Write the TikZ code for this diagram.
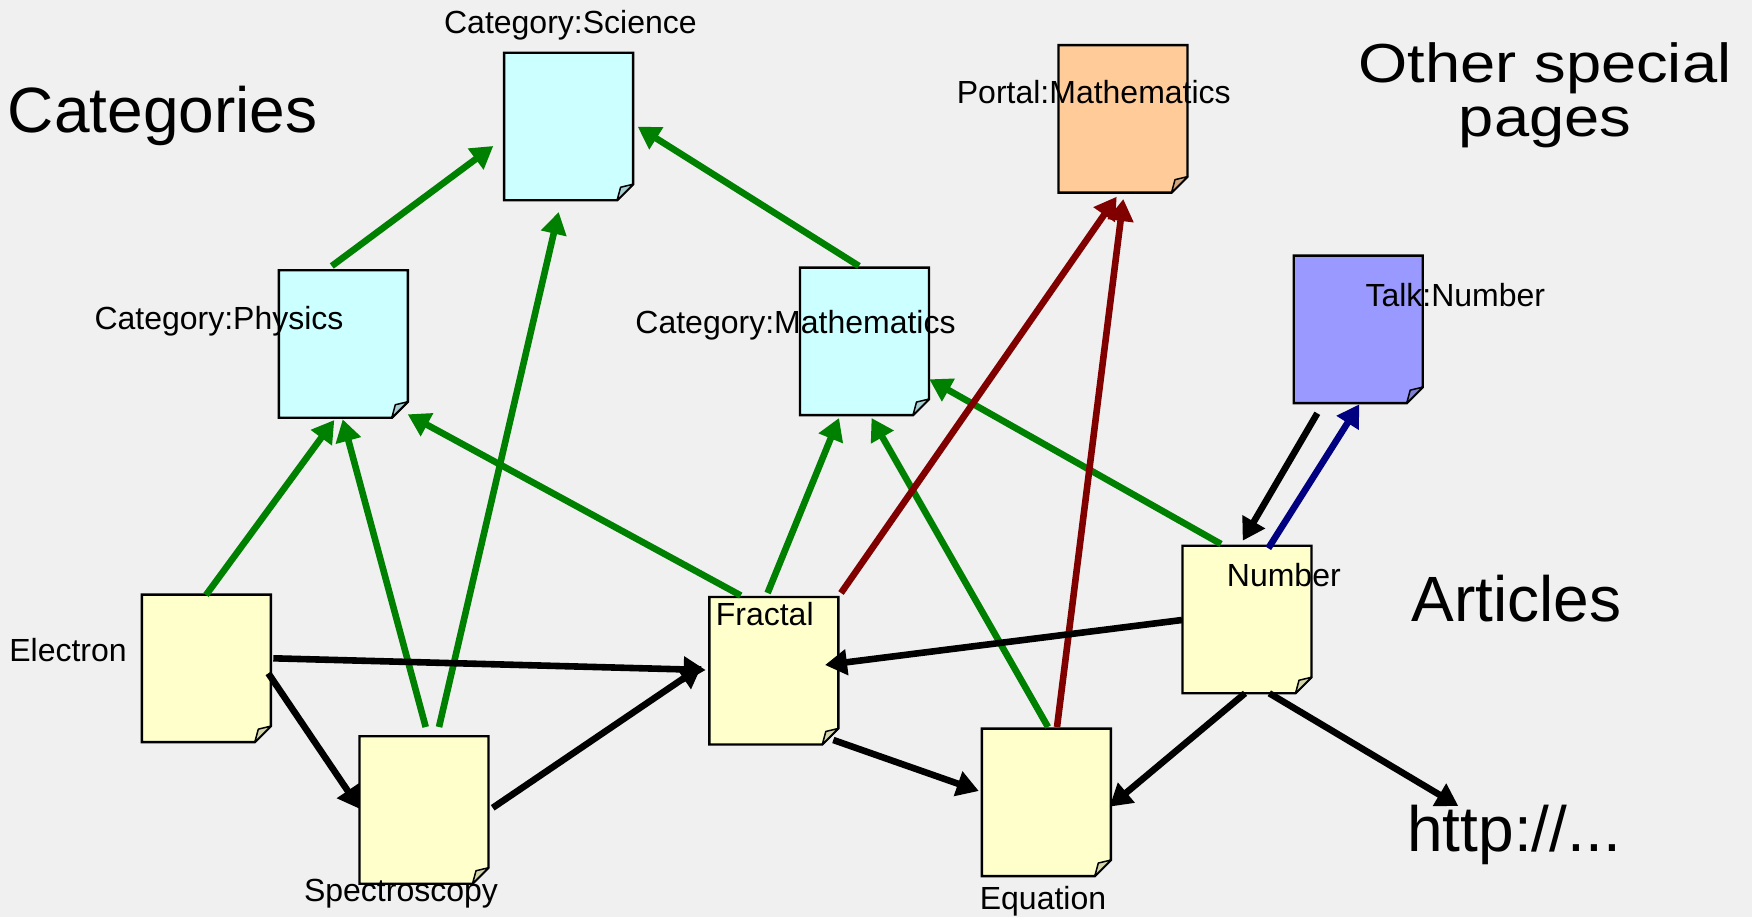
\documentclass[tikz,border=0pt]{standalone}
\usepackage{fontspec}
\setmainfont{Liberation Sans}
\newfontfamily\widefont[FakeStretch=1.15]{Liberation Sans}
\usetikzlibrary{arrows.meta}

\definecolor{bgc}{HTML}{F0F0F0}
\definecolor{catfill}{HTML}{CCFFFF}
\definecolor{catflap}{HTML}{A6CFD6}
\definecolor{artfill}{HTML}{FFFFCC}
\definecolor{artflap}{HTML}{D4D4AA}
\definecolor{portfill}{HTML}{FFCC99}
\definecolor{portflap}{HTML}{D4A67E}
\definecolor{talkfill}{HTML}{9999FF}
\definecolor{talkflap}{HTML}{7F7FD4}
\definecolor{catlink}{HTML}{008000}
\definecolor{portlink}{HTML}{800000}
\definecolor{talklink}{HTML}{000080}

% one wiki page: a sheet with a folded bottom-right corner
\newcommand\docpage[5]{%
  \node[docnode] (#1) at (#2,#3) {};
  \draw[docline, fill=#4] (#1.north west) -- (#1.north east)
    -- ([yshift=16pt]#1.south east) -- ([xshift=-16pt]#1.south east)
    -- (#1.south west) -- cycle;
  \draw[flapline, fill=#5] ([xshift=-16pt]#1.south east)
    -- ([xshift=-12.5pt,yshift=13pt]#1.south east)
    -- ([yshift=16pt]#1.south east) -- cycle;
}

\begin{document}
\begin{tikzpicture}[x=1pt,y=-1pt,
  docnode/.style={rectangle, minimum width=129pt, minimum height=147.5pt,
    inner sep=0pt, outer sep=0pt},
  docline/.style={line width=2.4pt, line join=miter},
  flapline/.style={line width=1.5pt, line join=round},
  link/.style={line width=6.6pt, -{Triangle[length=22pt,width=25pt]}},
  catlk/.style={link, draw=catlink},
  portlk/.style={link, draw=portlink},
  talklk/.style={link, draw=talklink},
  artlk/.style={link, draw=black},
  small/.style={font=\fontsize{32}{38}\selectfont, inner sep=0pt, anchor=base},
  big/.style={font=\fontsize{64}{76}\selectfont, inner sep=0pt, anchor=base},
  wide/.style={font=\widefont\fontsize{55}{60}\selectfont, inner sep=0pt, anchor=base},
]
\fill[bgc] (0,0) rectangle (1752,917);
\useasboundingbox (0,0) rectangle (1752,917);

% pages
\docpage{sci}{568.6}{126.5}{catfill}{catflap}
\docpage{phys}{343.3}{344}{catfill}{catflap}
\docpage{cmath}{864.5}{341.3}{catfill}{catflap}
\docpage{portal}{1123}{118.9}{portfill}{portflap}
\docpage{talk}{1358.2}{329.4}{talkfill}{talkflap}
\docpage{elec}{206.3}{668.4}{artfill}{artflap}
\docpage{spec}{424}{810}{artfill}{artflap}
\docpage{frac}{773.8}{670.7}{artfill}{artflap}
\docpage{eq}{1046.3}{802.3}{artfill}{artflap}
\docpage{num}{1247}{619.5}{artfill}{artflap}

% section titles
\node[big] (tcat) at (162.7,133) {Categories};
\node[big] (tart) at (1516.5,621) {Articles};
\node[big] (http) at (1514,851) {http://...};
\node[wide] (tother1) at (1545,83) {Other special};
\node[wide] (tother2) at (1545,137) {pages};

% category links
\draw[catlk] ([shift={(-11.5,-78)}]phys.center) -- ([shift={(-75.3,19.5)}]sci.center);
\draw[catlk] ([shift={(15,-83)}]spec.center) -- ([shift={(-9.9,85.5)}]sci.center);
\draw[catlk] ([shift={(-5.5,-75.3)}]cmath.center) -- ([shift={(69.1,0.2)}]sci.center);
\draw[catlk] ([shift={(-0.3,-73.4)}]elec.center) -- ([shift={(-9,76)}]phys.center);
\draw[catlk] ([shift={(1.7,-83)}]spec.center) -- ([shift={(-0.6,75.3)}]phys.center);
\draw[catlk] ([shift={(-33,-75.2)}]frac.center) -- ([shift={(64.4,70.3)}]phys.center);
\draw[catlk] ([shift={(-6.2,-77.7)}]frac.center) -- ([shift={(-25.5,76.7)}]cmath.center);
\draw[catlk] ([shift={(1.7,-75.3)}]eq.center) -- ([shift={(7,76.7)}]cmath.center);
\draw[catlk] ([shift={(-26,-75.5)}]num.center) -- ([shift={(64.8,38)}]cmath.center);

% portal links
\draw[portlk] ([shift={(67.2,-77.7)}]frac.center) -- ([shift={(-6.3,77.8)}]portal.center);
\draw[portlk] ([shift={(10.7,-75.3)}]eq.center) -- ([shift={(0.3,80.1)}]portal.center);

% talk page links
\draw[artlk] ([shift={(-40.9,83.9)}]talk.center) -- ([shift={(-4.3,-78.8)}]num.center);
\draw[talklk] ([shift={(21.3,-71.2)}]num.center) -- ([shift={(1.1,74.9)}]talk.center);

% article links
\draw[artlk] ([shift={(67,-10.1)}]elec.center) -- ([shift={(-68.1,-0.7)}]frac.center);
\draw[artlk] ([shift={(62,4.9)}]elec.center) -- ([shift={(-64,-1)}]spec.center);
\draw[artlk] ([shift={(68.7,-2.2)}]spec.center) -- ([shift={(-72.1,-4.7)}]frac.center);
\draw[artlk] ([shift={(-65,0.5)}]num.center) -- ([shift={(51.2,-5.7)}]frac.center);
\draw[artlk] ([shift={(59.5,69.3)}]frac.center) -- ([shift={(-67.5,-11.3)}]eq.center);
\draw[artlk] ([shift={(-2,73.8)}]num.center) -- ([shift={(63.2,4.4)}]eq.center);
\draw[artlk] ([shift={(22.3,73.8)}]num.center) -- ([shift={(-55.7,-45)}]http.base);

% page names
\node[small] (lsci) at (570.4,33.3) {Category:Science};
\node[small] (lphys) at (219,329) {Category:Physics};
\node[small] (lcmath) at (795.5,333.5) {Category:Mathematics};
\node[small] (lportal) at (1093.8,103.4) {Portal:Mathematics};
\node[small] (ltalk) at (1455.3,306) {Talk:Number};
\node[small] (lelec) at (68,661.5) {Electron};
\node[small] (lspec) at (401,901) {Spectroscopy};
\node[small] (lfrac) at (764.7,625) {Fractal};
\node[small] (leq) at (1043,909) {Equation};
\node[small] (lnum) at (1283.8,586) {Number};
\end{tikzpicture}
\end{document}
